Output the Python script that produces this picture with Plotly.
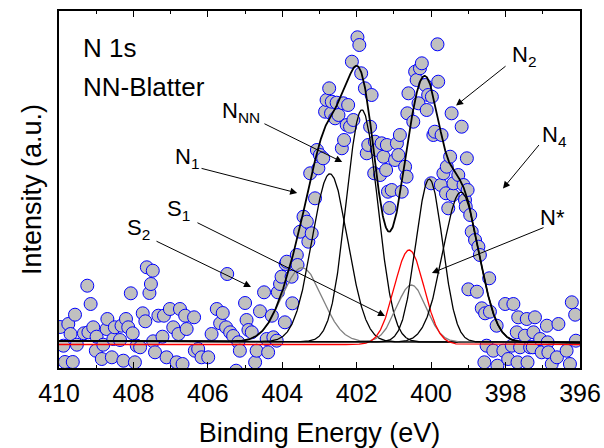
import numpy as np
import plotly.graph_objects as go

# ---------------- measured spectrum (binding energy in eV, intensity in a.u.) ----------------
energy = [409.97, 409.88, 409.84, 409.75, 409.69, 409.63, 409.57, 409.52, 409.33, 409.24,
          409.21, 409.15, 409.08, 409.01, 408.99, 408.85, 408.81, 408.72, 408.70, 408.58,
          408.54, 408.50, 408.36, 408.32, 408.27, 408.20, 408.14, 408.07, 408.02, 407.96,
          407.91, 407.82, 407.75, 407.68, 407.64, 407.57, 407.53, 407.48, 407.47, 407.42,
          407.33, 407.22, 407.18, 407.11, 407.02, 406.93, 406.84, 406.79, 406.75, 406.68,
          406.61, 406.57, 406.37, 406.35, 406.26, 406.17, 405.99, 405.90, 405.76, 405.67,
          405.60, 405.51, 405.48, 405.40, 405.32, 405.24, 405.18, 405.14, 405.00, 404.96,
          404.91, 404.82, 404.73, 404.69, 404.60, 404.49, 404.42, 404.38, 404.28, 404.24,
          404.15, 404.12, 404.06, 404.02, 403.93, 403.91, 403.88, 403.75, 403.73, 403.61,
          403.59, 403.52, 403.43, 403.34, 403.30, 403.25, 403.21, 403.12, 403.07, 403.03,
          402.99, 402.90, 402.85, 402.81, 402.74, 402.69, 402.67, 402.58, 402.54, 402.49,
          402.40, 402.36, 402.34, 402.27, 402.23, 402.18, 402.13, 402.09, 401.98, 401.93,
          401.88, 401.78, 401.73, 401.69, 401.64, 401.60, 401.53, 401.51, 401.46, 401.37,
          401.33, 401.28, 401.21, 401.19, 401.16, 401.12, 401.06, 400.97, 400.92, 400.88,
          400.84, 400.79, 400.70, 400.66, 400.64, 400.61, 400.48, 400.43, 400.39, 400.34,
          400.30, 400.25, 400.16, 400.12, 400.08, 400.00, 399.98, 399.94, 399.90, 399.83,
          399.81, 399.74, 399.72, 399.67, 399.60, 399.58, 399.54, 399.49, 399.45, 399.42,
          399.40, 399.27, 399.18, 399.13, 399.09, 399.07, 399.04, 399.02, 399.00, 398.95,
          398.91, 398.82, 398.77, 398.73, 398.69, 398.64, 398.57, 398.55, 398.51, 398.44,
          398.42, 398.33, 398.24, 398.22, 398.06, 398.01, 397.93, 397.83, 397.79, 397.70,
          397.68, 397.66, 397.61, 397.48, 397.43, 397.41, 397.34, 397.27, 397.25, 397.21,
          397.07, 397.03, 396.89, 396.87, 396.85, 396.76, 396.62, 396.58, 396.36, 396.27,
          396.22, 396.13, 396.11]
intensity = [17.5, -1.2, -17.5, 20.5, 10.5, -17.5, 29.8, -0.2, 11.2, 58.8,
             12.2, 40.5, 17.2, -6.2, 7.8, -14.5, -0.2, 15.5, 25.5, -12.8,
             5.5, 17.2, 4.5, 18.8, -16.2, 25.5, 17.2, 51.2, 11.2, -17.8,
             -1.2, -2.8, 31.2, 23.2, 77.2, 51.5, 60.5, 73.8, 3.2, -7.8,
             28.8, 7.8, 28.8, -12.8, 35.5, 17.2, -17.8, 10.5, 35.5, -19.5,
             28.8, 15.5, 27.2, -6.2, -4.5, -12.8, -12.8, 10.5, 35.5, 21.2,
             31.5, 17.2, 70.5, 12.2, 8.5, -26.2, 2.2, -6.2, 41.5, 24.5,
             14.5, 12.2, -17.8, -6.2, 33.2, 52.2, 5.5, -7.8, 28.8, 7.2,
             3.8, 52.2, 60.5, 67.8, 22.2, 80.5, 82.8, 67.8, 41.2, 89.5,
             79.5, 112.8, 127.8, 122.8, 102.8, 171.2, 111.2, 146.2, 194.5, 176.2,
             189.5, 186.2, 232.8, 244.5, 256.2, 231.2, 242.8, 226.2, 241.8, 229.5,
             196.2, 241.2, 204.5, 219.5, 239.5, 217.8, 282.8, 224.5, 307.2, 299.5,
             271.2, 256.2, 191.2, 199.5, 217.8, 249.5, 171.2, 202.8, 194.5, 169.5,
             201.2, 187.8, 174.5, 199.5, 152.8, 136.5, 154.5, 184.5, 201.2, 189.5,
             209.5, 152.8, 177.8, 167.8, 231.2, 251.2, 222.8, 272.8, 264.5, 241.2,
             276.2, 281.2, 259.5, 234.5, 249.5, 161.2, 247.8, 209.5, 212.8, 300.2,
             262.8, 159.5, 209.5, 171.2, 151.2, 177.8, 136.2, 187.8, 231.2, 149.5,
             161.2, 169.5, 217.8, 159.5, 144.5, 137.8, 186.2, 154.5, 55.2, 129.5,
             112.8, 104.5, 52.8, 97.8, 89.5, 36.2, -17.8, 31.2, -1.2, 66.2,
             32.8, -6.2, 18.8, -21.2, -6.2, 40.5, -14.5, -1.2, 40.5, 12.2,
             -17.8, 27.2, -2.8, 8.8, 25.5, -17.8, -2.8, -2.8, 12.2, 27.2,
             5.5, -7.8, 18.8, 2.2, -7.8, -19.5, -12.8, 20.5, -6.2, -19.5,
             42.2, 29.8, 3.8]

# ---------------- fitted components ----------------
peak_names = ["S2", "N1", "NNN", "S1", "N*", "N2", "N4"]
peak_centers = [403.47, 402.72, 401.86, 400.53, 400.59, 400.05, 399.20]
peak_heights = [74, 168, 232, 57, 94.5, 163, 150]
peak_sigmas = [0.54, 0.48, 0.42, 0.40, 0.40, 0.36, 0.48]
peak_colors = ["#808080", "black", "black", "#808080", "red", "black", "black"]
peak_on_background = [True, True, True, True, False, True, True]

# linear background (value at 410 eV and at 396 eV)
bg_energy = [410, 396]
bg_level = [3.5, 2.0]

# ---------------- labels ----------------
label_texts = ["N<sub>NN</sub>", "N<sub>1</sub>", "S<sub>1</sub>", "S<sub>2</sub>",
               "N<sub>2</sub>", "N<sub>4</sub>", "N*"]
label_x = [405.67, 406.94, 407.15, 408.23, 397.88, 397.07, 397.13]
label_y = [232.5, 186.5, 134.5, 115.5, 288.5, 208.5, 127.5]
arrow_tail_x = [404.52, 406.21, 406.32, 407.42, 397.96, 397.07, 396.94]
arrow_tail_y = [221.5, 176.5, 122.5, 104.0, 279.5, 201.0, 117.5]
arrow_tip_x = [402.39, 403.60, 401.24, 404.84, 399.33, 398.07, 399.98]
arrow_tip_y = [182.5, 151.5, 28.5, 57.5, 239.0, 156.0, 71.5]

x_ticks = [410, 408, 406, 404, 402, 400, 398, 396]

# ---------------- build figure ----------------
xf = np.linspace(396, 410, 1401)
bg = np.interp(xf, bg_energy[::-1], bg_level[::-1])

fig = go.Figure()

fig.add_trace(go.Scatter(
    x=energy, y=intensity, mode="markers",
    marker=dict(size=13, color="#c0c0c0", line=dict(color="blue", width=1)),
    showlegend=False, cliponaxis=True))

envelope = bg.copy()
for c, h, s, col, onbg in zip(peak_centers, peak_heights, peak_sigmas, peak_colors, peak_on_background):
    g = h * np.exp(-0.5 * ((xf - c) / s) ** 2)
    envelope = envelope + g
    base = bg if onbg else 0.0
    fig.add_trace(go.Scatter(x=xf, y=g + base, mode="lines",
                             line=dict(color=col, width=1.3), showlegend=False))

fig.add_trace(go.Scatter(x=xf, y=envelope, mode="lines",
                         line=dict(color="black", width=1.8), showlegend=False))

annotations = []
for t, lx, ly in zip(label_texts, label_x, label_y):
    annotations.append(dict(x=lx, y=ly, xref="x", yref="y", text=t, showarrow=False,
                            xanchor="left", yanchor="middle",
                            font=dict(size=22, color="black", family="Liberation Sans, Arial")))
for tx, ty, hx, hy in zip(arrow_tail_x, arrow_tail_y, arrow_tip_x, arrow_tip_y):
    annotations.append(dict(x=hx, y=hy, xref="x", yref="y", ax=tx, ay=ty, axref="x", ayref="y",
                            text="", showarrow=True, arrowhead=2, arrowsize=1.4,
                            arrowwidth=1, arrowcolor="black"))
annotations.append(dict(x=409.41, y=297, xref="x", yref="y", text="N 1s", showarrow=False,
                        xanchor="left", yanchor="middle",
                        font=dict(size=26, color="black", family="Liberation Sans, Arial")))
annotations.append(dict(x=409.41, y=257.5, xref="x", yref="y", text="NN-Blatter", showarrow=False,
                        xanchor="left", yanchor="middle",
                        font=dict(size=26, color="black", family="Liberation Sans, Arial")))

fig.update_layout(
    width=604, height=448,
    margin=dict(l=59, r=24, t=11, b=80),
    paper_bgcolor="white", plot_bgcolor="white",
    font=dict(family="Liberation Sans, Arial", color="black"),
    annotations=annotations,
    xaxis=dict(range=[410, 396], tickvals=x_ticks, ticks="inside", ticklen=6, tickwidth=1.3,
               tickcolor="black", showline=True, linecolor="black", linewidth=1.5,
               mirror="ticks", showgrid=False, zeroline=False, automargin=False,
               tickfont=dict(size=25), ticklabelstandoff=2,
               minor=dict(dtick=1, tick0=409, ticks="inside", ticklen=3.5, tickwidth=1.2,
                          tickcolor="black", showgrid=False),
               title=dict(text="Binding Energy (eV)", font=dict(size=27), standoff=22)),
    yaxis=dict(range=[-23.5, 333.5], showticklabels=False, ticks="", showline=True,
               linecolor="black", linewidth=1.5, mirror=True, showgrid=False, zeroline=False,
               automargin=False,
               title=dict(text="Intensity (a.u.)", font=dict(size=27), standoff=8)),
)

fig.write_html("out.html")
